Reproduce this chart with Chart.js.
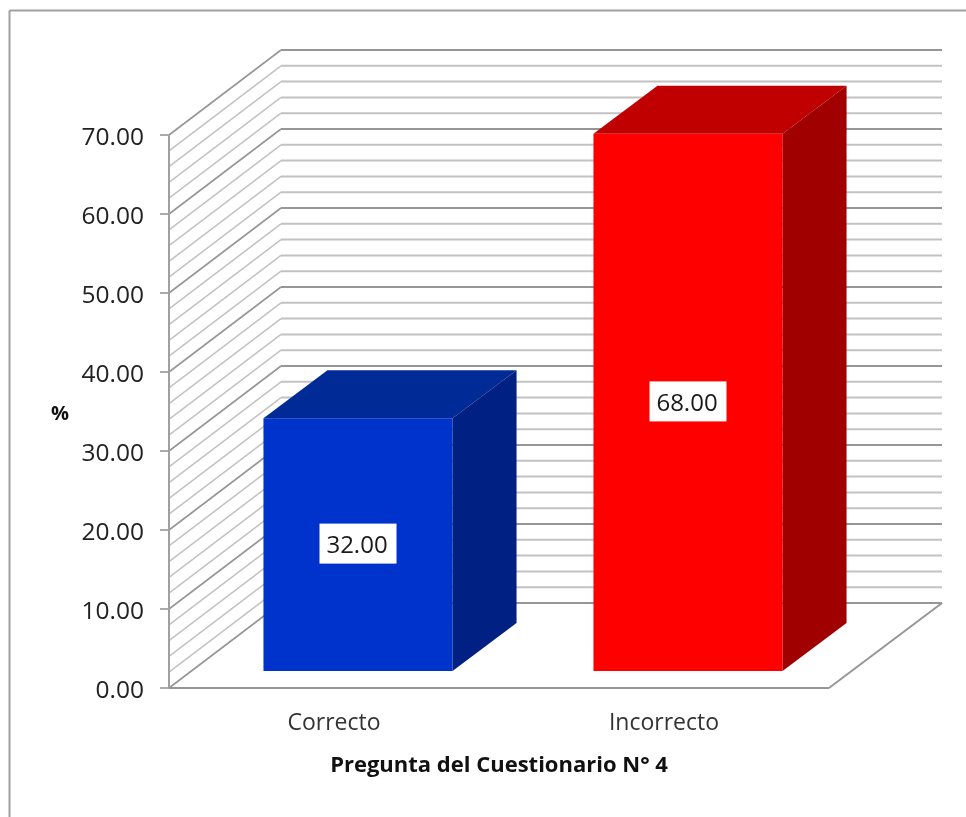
<!DOCTYPE html>
<html>
<head>
<meta charset="utf-8">
<style>
  html, body { margin: 0; padding: 0; background: #fff; }
  canvas { display: block; }
</style>
<script src="https://cdn.jsdelivr.net/npm/chart.js@4/dist/chart.umd.js"></script>
</head>
<body>
<canvas id="chart" width="966" height="817"></canvas>
<script>
const categories = ['Correcto', 'Incorrecto'];
const values = [32, 68];
const frontColors = ['#0033cc', '#ff0000'];
const topColors = ['#002a96', '#c00000'];
const sideColors = ['#002084', '#a00000'];

const FONT = '"Open Sans", sans-serif';
// 3D offsets: wall depth, and how far the bars stand in from the front edge
const WALL_DX = 112, WALL_DY = -85;
const BAR_IN_DX = 24, BAR_IN_DY = -17;
const BAR_DX = 64, BAR_DY = -48;

function line(ctx, x1, y1, x2, y2, color, width) {
  ctx.strokeStyle = color;
  ctx.lineWidth = width;
  ctx.beginPath();
  ctx.moveTo(x1, y1);
  ctx.lineTo(x2, y2);
  ctx.stroke();
}

function poly(ctx, pts, color) {
  ctx.fillStyle = color;
  ctx.beginPath();
  pts.forEach((p, i) => i ? ctx.lineTo(p[0], p[1]) : ctx.moveTo(p[0], p[1]));
  ctx.closePath();
  ctx.fill();
}

const box3d = {
  id: 'box3d',
  // outer frame, walls and floor
  beforeDatasetsDraw(chart) {
    const { ctx, chartArea: a, scales: { y } } = chart;
    const backRight = a.right + WALL_DX + 1;
    ctx.save();
    line(ctx, 9.5, 817, 9.5, 10.5, '#a0a0a0', 2);
    line(ctx, 9.5, 10.5, 966, 10.5, '#a0a0a0', 2);

    y.ticks.forEach(t => {
      const py = y.getPixelForValue(t.value);
      const major = t.value % 10 === 0;
      const color = major ? '#969696' : '#c2c2c2';
      line(ctx, a.left, py, a.left + WALL_DX, py + WALL_DY, color, major ? 1.6 : 1.5);
      line(ctx, a.left + WALL_DX, py + WALL_DY, backRight, py + WALL_DY, color, 2);
      if (major) line(ctx, a.left - 9, py, a.left, py, '#969696', 1.6);
    });

    line(ctx, a.left, a.top, a.left, a.bottom, '#a0a0a0', 2);
    line(ctx, a.left, a.bottom, a.right, a.bottom, '#969696', 2);
    line(ctx, a.right, a.bottom, backRight, a.bottom + WALL_DY, '#969696', 2);
    ctx.restore();
  },
  beforeDatasetDraw(chart) {
    chart.ctx.save();
    chart.ctx.translate(BAR_IN_DX, BAR_IN_DY);
  },
  afterDatasetDraw(chart) {
    chart.ctx.restore();
  },
  // top and side faces plus the value boxes, taken from the bar elements
  afterDatasetsDraw(chart) {
    const { ctx } = chart;
    chart.getDatasetMeta(0).data.forEach((bar, i) => {
      const { x, y, base, width } = bar.getProps(['x', 'y', 'base', 'width'], true);
      const l = x - width / 2 + BAR_IN_DX, r = x + width / 2 + BAR_IN_DX;
      const t = y + BAR_IN_DY, b = base + BAR_IN_DY;
      poly(ctx, [[l, t], [l + BAR_DX, t + BAR_DY], [r + BAR_DX, t + BAR_DY], [r, t]], topColors[i]);
      poly(ctx, [[r, t], [r + BAR_DX, t + BAR_DY], [r + BAR_DX, b + BAR_DY], [r, b]], sideColors[i]);

      const cx = (l + r) / 2, cy = (t + b) / 2;
      ctx.fillStyle = '#fff';
      ctx.fillRect(cx - 38.5, cy - 21, 77, 40);
      ctx.fillStyle = '#1a1a1a';
      ctx.font = '24px ' + FONT;
      ctx.textAlign = 'center';
      ctx.textBaseline = 'middle';
      ctx.fillText(values[i].toFixed(2), cx - 1, cy + 2);
    });

    // axis name stays horizontal, so it is not the scale's rotated title
    ctx.fillStyle = '#111';
    ctx.font = 'bold 20px ' + FONT;
    ctx.textAlign = 'center';
    ctx.textBaseline = 'middle';
    ctx.fillText('%', 60, 414);
  },
};

new Chart(document.getElementById('chart'), {
  type: 'bar',
  data: {
    labels: categories,
    datasets: [{
      data: values,
      backgroundColor: frontColors,
      borderWidth: 0,
      categoryPercentage: 1,
      barPercentage: 0.573,
    }],
  },
  options: {
    responsive: false,
    animation: false,
    layout: { padding: { left: 0, top: 135, right: 137, bottom: 38 } },
    plugins: { legend: { display: false }, tooltip: { enabled: false } },
    scales: {
      x: {
        grid: { display: false },
        border: { display: false },
        ticks: { color: '#333', font: { family: FONT, size: 23 }, padding: 14, maxRotation: 0 },
        title: {
          display: true,
          text: 'Pregunta del Cuestionario N° 4',
          color: '#111',
          font: { family: FONT, size: 22, weight: 'bold' },
          padding: 0,
        },
        afterFit(scale) { scale.height = 91; },
      },
      y: {
        min: 0,
        max: 70,
        grid: { display: false },
        border: { display: false },
        ticks: {
          stepSize: 2,
          autoSkip: false,
          color: '#222',
          padding: 17,
          labelOffset: 3,
          font: { family: FONT, size: 24.5 },
          callback: v => (v % 10 === 0 ? v.toFixed(2) : ''),
        },
        afterFit(scale) { scale.width = 169; },
      },
    },
  },
  plugins: [box3d],
});
</script>
</body>
</html>
